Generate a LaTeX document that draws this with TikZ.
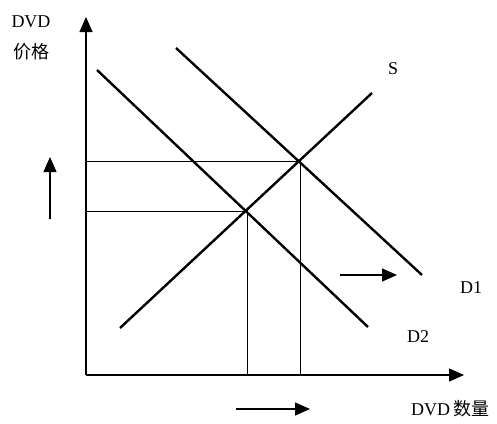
\documentclass[tikz,border=0pt]{standalone}
\usepackage{fontspec}
\setmainfont{Liberation Serif}
\newfontfamily\cjk{Noto Sans CJK SC}
\usetikzlibrary{arrows.meta}
\begin{document}
\begin{tikzpicture}[x=1pt,y=-1pt,
  curve/.style={line width=2.4pt},
  axis/.style={line width=1.3pt,-{Triangle[length=15pt,width=13pt]}},
  guide/.style={line width=0.9pt},
  shiftarrow/.style={line width=1.2pt,-{Triangle[length=15pt,width=13pt]}},
  lbl/.style={font=\fontsize{18}{20}\selectfont,inner sep=0pt}]
\useasboundingbox[fill=white] (0,0) rectangle (497,423);
% axes
\coordinate (O) at (86,375);
\coordinate (ytip) at (86,17);
\coordinate (xtip) at (464,375);
\draw[axis] (O) -- (ytip);
\draw[axis] (O) -- (xtip);
% curves
\coordinate (s1) at (120,328);
\coordinate (s2) at (372,93);
\coordinate (da1) at (176,48);
\coordinate (da2) at (422,275);
\coordinate (db1) at (97,70);
\coordinate (db2) at (368,327);
\draw[curve] (s1) -- (s2);
\draw[curve] (da1) -- (da2);
\draw[curve] (db1) -- (db2);
% equilibria
\coordinate (E1) at (300,161);
\coordinate (E2) at (247,211);
\coordinate (p1) at (86,161);
\coordinate (p2) at (86,211);
\coordinate (q1) at (300,375);
\coordinate (q2) at (247,375);
\draw[guide] (p1) -- (E1) -- (q1);
\draw[guide] (p2) -- (E2) -- (q2);
% shift arrows
\coordinate (u1) at (50,219);
\coordinate (u2) at (50,157);
\draw[shiftarrow] (u1) -- (u2);
\coordinate (r1) at (340,275);
\coordinate (r2) at (397,275);
\draw[shiftarrow] (r1) -- (r2);
\coordinate (b1) at (236,409);
\coordinate (b2) at (310,409);
\draw[shiftarrow] (b1) -- (b2);
% labels
\node[lbl] (ylab1) at (31,22) {DVD};
\node[lbl] (ylab2) at (31,52) {\cjk 价格};
\node[lbl] (slab) at (393,69) {S};
\node[lbl] (d1lab) at (471,288) {D1};
\node[lbl] (d2lab) at (418,337) {D2};
\node[lbl] (xlab) at (450,409) {DVD\,{\cjk 数量}};
\end{tikzpicture}
\end{document}
